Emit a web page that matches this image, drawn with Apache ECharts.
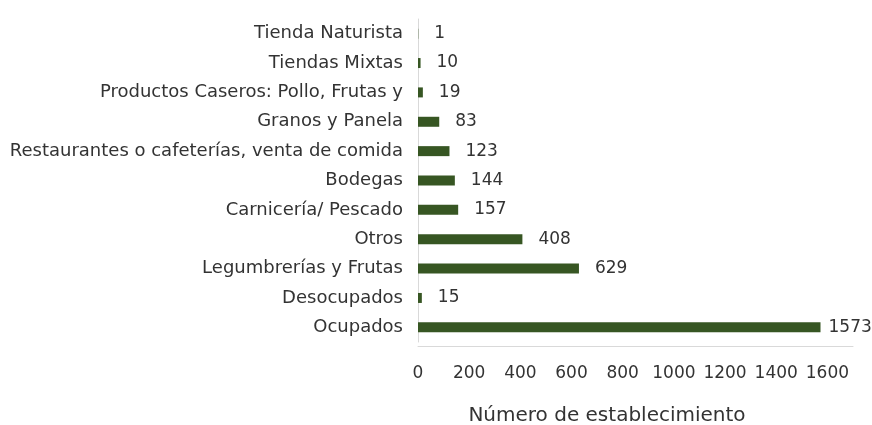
<!DOCTYPE html>
<html>
<head>
<meta charset="utf-8">
<script src="https://cdn.jsdelivr.net/npm/echarts@6/dist/echarts.min.js"></script>
<style>html,body{margin:0;padding:0;background:#fff}#c{width:872px;height:425px}</style>
</head>
<body>
<div id="c"></div>
<script>
const categories = ["Ocupados","Desocupados","Legumbrerías y Frutas","Otros","Carnicería/ Pescado","Bodegas","Restaurantes o cafeterías, venta de comida","Granos y Panela","Productos Caseros: Pollo, Frutas y","Tiendas Mixtas","Tienda Naturista"];
const values = [1573,15,629,408,157,144,123,83,19,10,1];
const xTicks = [0,200,400,600,800,1000,1200,1400,1600];
const axisTitle = "Número de establecimiento";

const font = "DejaVu Sans";
const txt = "#333333";
const seriesData = values.map(v => v > 1500 ? {value: v, label: {distance: 8}} : v);

const chart = echarts.init(document.getElementById('c'), null, {renderer: 'canvas'});
chart.setOption({
  animation: false,
  textStyle: {fontFamily: font},
  title: {
    text: axisTitle, left: 602, top: 401, textAlign: 'center',
    textStyle: {fontFamily: font, fontSize: 20, fontWeight: 'normal', color: txt}
  },
  grid: {left: 418, right: 19, top: 19, bottom: 83, containLabel: false},
  xAxis: {
    type: 'value', min: 0, max: 1700, interval: 200, offset: 4,
    axisLine: {show: true, lineStyle: {color: '#d9d9d9', width: 1}},
    axisTick: {show: false},
    splitLine: {show: false},
    axisLabel: {
      color: txt, fontSize: 17, fontFamily: font, margin: 19, showMaxLabel: false,
      formatter: v => xTicks.indexOf(v) >= 0 ? String(v) : ''
    }
  },
  yAxis: {
    type: 'category', data: categories,
    axisLine: {show: true, lineStyle: {color: '#d9d9d9', width: 1}},
    axisTick: {show: false},
    axisLabel: {color: txt, fontSize: 18, fontFamily: font, margin: 15}
  },
  series: [{
    type: 'bar', data: seriesData, barWidth: 10,
    itemStyle: {color: '#375623'},
    label: {show: true, position: 'right', distance: 16, color: txt, fontSize: 17, fontFamily: font}
  }]
});
</script>
</body>
</html>
